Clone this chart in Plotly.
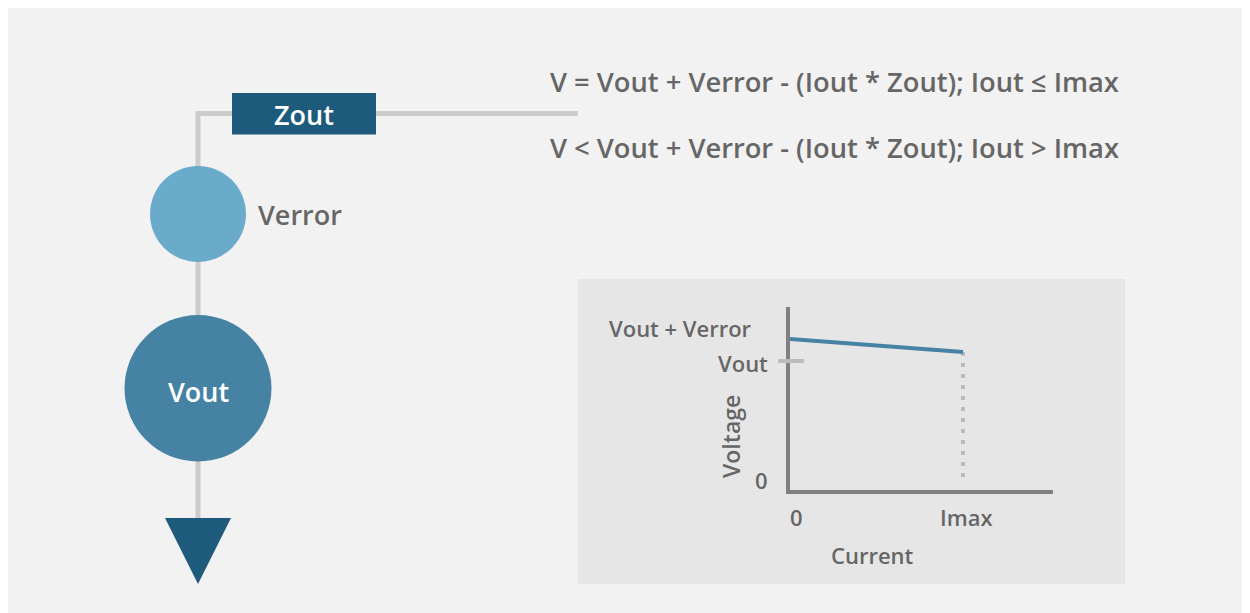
import plotly.graph_objects as go

# ---- data ----
current_pts = [0.0, 1.0]          # 0 .. Imax
voltage_pts = [1.17, 1.07]        # Vout+Verror at 0, drooping towards Imax
vout_level = 1.0
verror_level = 1.255
x_ticks = [0.0, 1.0]
x_tick_labels = ["0", "Imax"]
y_tick_vals = [0.0, 1.0, 1.255]
y_tick_labels = ["0", "Vout", "Vout + Verror"]
equations = ["V = Vout + Verror - (Iout * Zout); Iout ≤ Imax",
             "V < Vout + Verror - (Iout * Zout); Iout > Imax"]

W, H = 1250, 613
OFF = 8  # page body margin
FONT = "Open Sans"
TXT = "#666666"
DARK = "#1d5a7b"
MID = "#4682a4"
LIGHT = "#6aaacb"
WIRE = "#cccccc"

def px(x):
    return (x - OFF) / W

def py(y):
    return 1 - (y - OFF) / H

fig = go.Figure()

shapes = []
# wires
shapes.append(dict(type="line", xref="paper", yref="paper", x0=px(198), x1=px(198), y0=py(111), y1=py(520),
                   line=dict(color=WIRE, width=5), layer="below"))
shapes.append(dict(type="line", xref="paper", yref="paper", x0=px(196), x1=px(578), y0=py(113.5), y1=py(113.5),
                   line=dict(color=WIRE, width=5), layer="below"))
# Zout box
shapes.append(dict(type="rect", xref="paper", yref="paper", x0=px(232), x1=px(376), y0=py(134.5), y1=py(93),
                   fillcolor=DARK, line=dict(width=0)))
# Verror circle
shapes.append(dict(type="circle", xref="paper", yref="paper", x0=px(150), x1=px(246), y0=py(262), y1=py(166),
                   fillcolor=LIGHT, line=dict(width=0)))
# Vout circle
shapes.append(dict(type="circle", xref="paper", yref="paper", x0=px(124.5), x1=px(271.5), y0=py(461.5), y1=py(315),
                   fillcolor=MID, line=dict(width=0)))
# ground triangle
shapes.append(dict(type="path", xref="paper", yref="paper",
                   path=f"M {px(165)},{py(518)} L {px(231)},{py(518)} L {px(198)},{py(584)} Z",
                   fillcolor=DARK, line=dict(width=0)))
# inset panel
shapes.append(dict(type="rect", xref="paper", yref="paper", x0=px(578), x1=px(1125), y0=py(584), y1=py(279),
                   fillcolor="#e6e6e6", line=dict(width=0), layer="below"))
# Vout tick mark on voltage axis
shapes.append(dict(type="line", xref="x domain", yref="y", x0=-0.045, x1=0.053, y0=vout_level, y1=vout_level,
                   line=dict(color="#bbbbbb", width=4)))

# inset chart traces
fig.add_trace(go.Scatter(x=[current_pts[1], current_pts[1]], y=[voltage_pts[1], 0.05], mode="lines",
                         line=dict(color="#bbbbbb", width=4, dash="4px,7px"), hoverinfo="skip", showlegend=False))
fig.add_trace(go.Scatter(x=current_pts, y=voltage_pts, mode="lines",
                         line=dict(color=MID, width=4), hoverinfo="skip", showlegend=False, cliponaxis=False))

ann = []
def text(x, y, s, size=27, color=TXT, xanchor="left", **kw):
    ann.append(dict(x=x, y=y, xref="paper", yref="paper", text=s, showarrow=False,
                    xanchor=xanchor, yanchor="middle",
                    font=dict(family=FONT, size=size, color=color, weight=600), **kw))

text(px(304), py(114), "Zout", color="white", xanchor="center")
text(px(256), py(214), "Verror")
text(px(198), py(392), "Vout", color="white", xanchor="center")
text(px(548), py(81), equations[0], size=27.3)
text(px(548), py(148), equations[1], size=27.3)

# inset tick labels via data coords
for v, lab, ys in zip(y_tick_vals, y_tick_labels, [10, -2, 0]):
    ann.append(dict(x=0, y=v, xref="x", yref="y", text=lab, showarrow=False, xanchor="right", yanchor="middle",
                    xshift=-20 if lab != "Vout + Verror" else -36, yshift=ys,
                    font=dict(family=FONT, size=22, color=TXT, weight=600)))
for v, lab in zip(x_ticks, x_tick_labels):
    ann.append(dict(x=v, y=0, xref="x", yref="y", text=lab, showarrow=False, xanchor="center", yanchor="middle",
                    xshift=6 if lab == "0" else 3, yshift=-27,
                    font=dict(family=FONT, size=22, color=TXT, weight=600)))
ann.append(dict(x=px(873), y=py(555), xref="paper", yref="paper", text="Current", showarrow=False,
                xanchor="center", yanchor="middle", font=dict(family=FONT, size=22, color=TXT, weight=600)))
ann.append(dict(x=px(731), y=py(437), xref="paper", yref="paper", text="Voltage", showarrow=False, textangle=-90,
                xanchor="center", yanchor="middle", font=dict(family=FONT, size=23, color=TXT, weight=600)))

x_max = (1053 - 790) / (963 - 790)
y_max = (490 - 307) / (490 - 361) * vout_level

fig.update_layout(
    width=W, height=H, margin=dict(l=0, r=0, t=0, b=0),
    paper_bgcolor="#f2f2f2", plot_bgcolor="rgba(0,0,0,0)",
    shapes=shapes, annotations=ann, showlegend=False,
    xaxis=dict(domain=[px(790), px(1053)], range=[0, x_max], showgrid=False, zeroline=False,
               showticklabels=False, ticks="", showline=True, linecolor="#808080", linewidth=4, fixedrange=True),
    yaxis=dict(domain=[py(490), py(307)], range=[0, y_max], showgrid=False, zeroline=False,
               showticklabels=False, ticks="", showline=True, linecolor="#808080", linewidth=4, fixedrange=True),
)

fig.write_html("out.html", config={"displayModeBar": False})
